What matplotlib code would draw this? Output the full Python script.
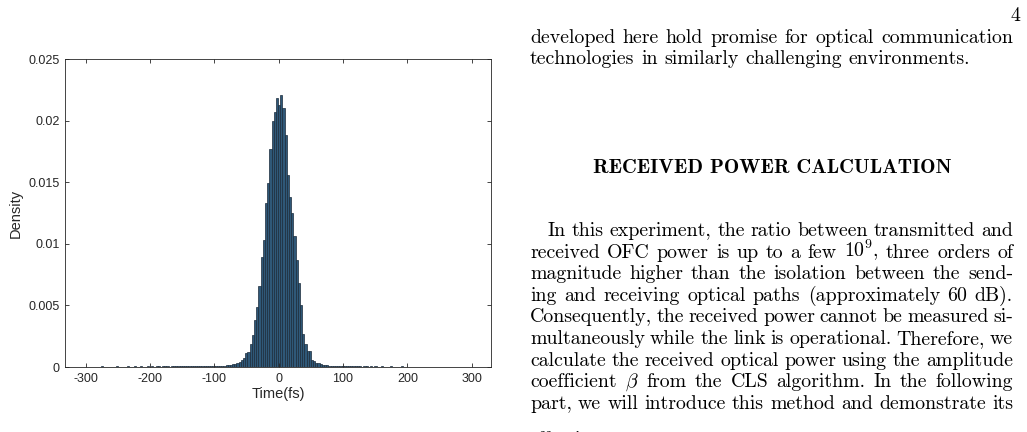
import numpy as np
import matplotlib
matplotlib.use("Agg")
import matplotlib.pyplot as plt
from matplotlib.transforms import IdentityTransform

# Histogram data (density, in units of 1e-4), bins of 3.4 fs starting at -329 fs
bin_start = -329.0
bin_width = 3.4
density_e4 = [
    # left tail
    0.3, 0.2, 0.4, 0.3, 0.2, 0.3, 0.4, 0.2, 0.3, 0.3,
    0.4, 0.3, 0.2, 0.4, 0.3, 0.3, 0.5, 0.3, 0.2, 0.4,
    0.3, 0.4, 0.3, 0.5, 0.3, 0.4, 0.3, 0.4, 0.5, 0.3,
    0.4, 0.5, 0.3, 0.4, 0.5, 0.4, 0.3, 0.5, 0.4, 0.6,
    0.4, 0.5, 0.6, 0.4, 0.5, 0.7, 0.5, 0.4, 0.6, 0.5,
    0.6, 0.7, 0.5, 0.6, 0.8, 0.6, 0.5, 0.7, 0.9, 0.6,
    0.7, 0.8, 0.6, 0.9, 0.7, 0.8, 1.0, 0.8,
    # core
    0.9, 1.0, 1.1, 1.0, 1.2, 1.4, 1.6, 1.8, 2.2, 2.7,
    3.2, 4.2, 5.5, 7.5, 11, 12, 19, 26, 38, 49,
    66, 89, 103, 133, 149, 177, 200, 207, 218, 213,
    221, 210, 188, 156, 138, 125, 106, 87, 68, 50,
    27, 19, 13, 13, 6, 4.5, 3.5, 3.0, 2.5, 2.0,
    1.7, 1.5, 1.2, 1.1, 1.0, 0.9, 0.8, 0.9, 0.7,
    # right tail
    0.8, 0.6, 0.7, 0.5, 0.6, 0.7, 0.5, 0.6, 0.4, 0.5,
    0.6, 0.4, 0.5, 0.4, 0.6, 0.4, 0.3, 0.5, 0.4, 0.3,
    0.4, 0.5, 0.3, 0.4, 0.3, 0.4, 0.5, 0.3, 0.4, 0.3,
    0.3, 0.4, 0.2, 0.3, 0.4, 0.3, 0.2, 0.3, 0.4, 0.3,
    0.2, 0.3, 0.3, 0.2, 0.4, 0.3, 0.2, 0.3, 0.2, 0.3,
    0.3, 0.2, 0.3, 0.2, 0.2, 0.3, 0.2, 0.3, 0.2, 0.2,
    0.3, 0.2, 0.2, 0.3, 0.2, 0.2, 0.2,
]
x_ticks = [-300, -200, -100, 0, 100, 200, 300]
y_ticks = [0, 0.005, 0.01, 0.015, 0.02, 0.025]
y_tick_labels = ["0", "0.005", "0.01", "0.015", "0.02", "0.025"]

page_number = "4"
para1 = [
    "developed here hold promise for optical communication",
    "technologies in similarly challenging environments.",
]
heading = "RECEIVED POWER CALCULATION"
para2 = [
    "In this experiment, the ratio between transmitted and",
    "received OFC power is up to a few $10^9$, three orders of",
    "magnitude higher than the isolation between the send-",
    "ing and receiving optical paths (approximately 60 dB).",
    "Consequently, the received power cannot be measured si-",
    "multaneously while the link is operational. Therefore, we",
    "calculate the received optical power using the amplitude",
    "coefficient $\\beta$ from the CLS algorithm. In the following",
    "part, we will introduce this method and demonstrate its",
    "effectiveness.",
]

plt.rcParams['mathtext.fontset'] = 'cm'
plt.rcParams['axes.unicode_minus'] = False

W, H = 1027, 432
fig = plt.figure(figsize=(W / 100, H / 100), dpi=100)
fig.patch.set_facecolor('white')

# Histogram panel
ax = fig.add_axes([65 / W, 1 - 367 / H, 426 / W, 308 / H])
centers = bin_start + bin_width * np.arange(len(density_e4))
heights = np.array(density_e4) * 1e-4
ax.bar(centers, heights, width=bin_width, color='#2f5878',
       edgecolor='#1b2b3a', linewidth=0.5)
ax.set_xlim(-332, 330)
ax.set_ylim(0, 0.025)
ax.set_xticks(x_ticks)
ax.set_xticklabels([str(t) for t in x_ticks])
ax.set_yticks(y_ticks)
ax.set_yticklabels(y_tick_labels)
dark = '#262626'
ax.tick_params(direction='in', top=True, right=True, length=3, width=0.6,
               colors=dark, labelsize=9, pad=4)
for lab in ax.get_xticklabels() + ax.get_yticklabels():
    lab.set_family('Liberation Sans')
for s in ax.spines.values():
    s.set_color(dark)
    s.set_linewidth(0.6)
ax.set_xlabel("Time(fs)", family='Liberation Sans', fontsize=10.5,
              color=dark, labelpad=2)
ax.set_ylabel("Density", family='Liberation Sans', fontsize=10.5,
              color=dark, labelpad=4)

# Page text on the right
renderer = fig.canvas.get_renderer()
fs = 14.3


def put_line(line, x0, x1, y_base, justify=True, family='cmr10'):
    words = line.split(' ')
    base = H - y_base
    texts = [fig.text(0, base, w, transform=IdentityTransform(), fontsize=fs,
                      family=family, color='black', va='baseline')
             for w in words]
    widths = [t.get_window_extent(renderer).width for t in texts]
    if justify and len(words) > 1:
        gap = (x1 - x0 - sum(widths)) / (len(words) - 1)
    else:
        gap = 0.333 * fs * 100 / 72
    x = x0
    for t, w in zip(texts, widths):
        t.set_x(x)
        x += w + gap


fig.text(1015, H - 21, page_number, transform=IdentityTransform(),
         fontsize=fs, family='cmr10', ha='center', va='baseline')

put_line(para1[0], 530, 1013, 43)
put_line(para1[1], 530, 1013, 64, justify=False)

fig.text(772, H - 173, heading, transform=IdentityTransform(),
         fontsize=14.8, family='cmb10', ha='center', va='baseline')

y0 = 236
step = 21.6
for i, line in enumerate(para2):
    last = i == len(para2) - 1
    put_line(line, 548 if i == 0 else 530, 1013,
             445 if last else y0 + i * step, justify=not last)

fig.savefig("out.png", dpi=100)
